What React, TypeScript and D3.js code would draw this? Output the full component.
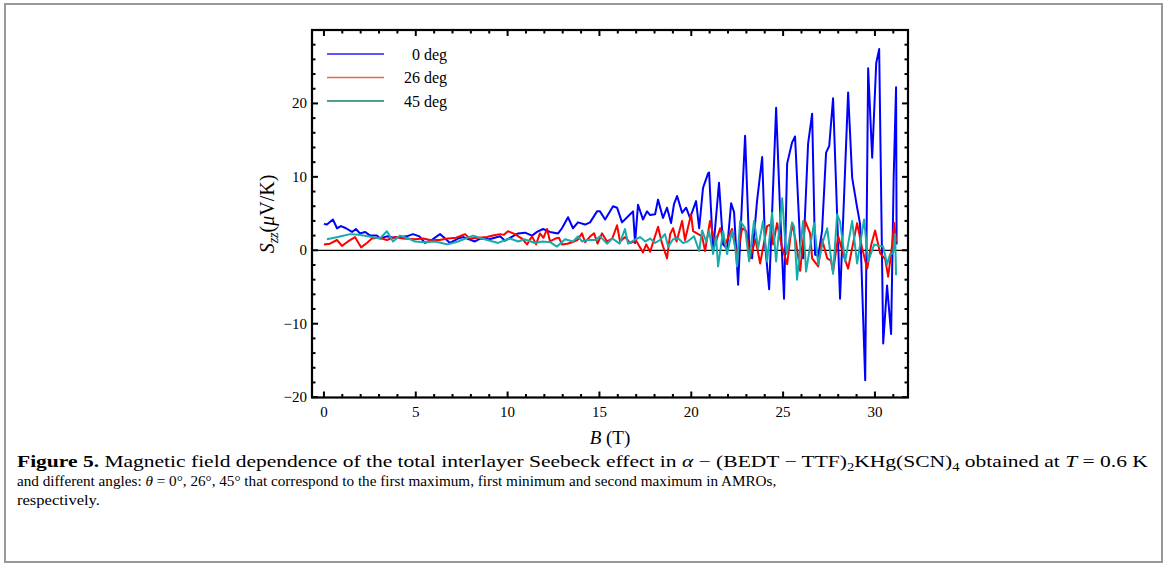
import React, { useLayoutEffect, useRef } from "react";
import * as d3 from "d3";

// 0 deg series (field in T, Szz in µV/K)
const blueB = [0,0.16,0.49,0.71,0.93,1.2,1.53,1.74,1.96,2.25,2.51,2.89,3.05,3.43,3.8,4.14,4.5,4.85,5.2,5.5,5.8,6.32,6.6,6.86,7.3,7.6,7.9,8.22,8.5,9.0,9.3,9.59,9.86,10.2,10.57,10.95,11.33,11.6,11.93,12.31,12.75,12.96,13.29,13.56,13.83,14.22,14.49,14.87,15.03,15.31,15.74,15.96,16.23,16.67,16.83,16.94,17.1,17.37,17.59,17.76,18.03,18.19,18.46,18.68,18.9,19.06,19.23,19.5,19.72,19.93,20.26,20.43,20.64,20.92,20.97,21.19,21.51,21.73,21.95,22.17,22.33,22.55,22.93,23.15,23.31,23.58,23.86,24.02,24.24,24.62,24.84,25.05,25.22,25.49,25.65,25.93,26.09,26.36,26.58,26.74,26.91,27.12,27.34,27.51,27.72,28.1,28.54,28.76,29.03,29.19,29.47,29.63,29.85,30.07,30.23,30.45,30.66,30.88,31.02,31.15,31.18];
const blueS = [3.6,3.5,4.2,3.0,3.3,3.0,2.5,2.9,2.3,2.5,2.0,2.0,1.6,1.9,1.7,1.8,1.9,2.2,1.9,1.0,1.3,2.2,1.6,1.0,1.6,1.8,1.5,1.2,1.6,1.5,1.7,1.9,1.3,1.8,2.3,2.4,2.0,2.5,2.9,2.5,2.3,3.0,4.5,3.0,3.8,3.5,3.8,5.3,5.3,4.2,6.0,5.8,3.8,4.9,5.3,1.0,6.2,4.2,5.3,4.8,4.9,6.9,4.4,5.8,3.7,6.3,7.4,5.1,5.8,4.4,6.7,3.0,8.5,10.5,10.6,-0.1,9.2,0.8,0.2,6.4,5.2,-4.7,15.6,0.8,-1.1,6.7,12.7,0.8,-5.3,19.4,5.1,-6.6,11.8,14.7,15.5,0.8,-1.1,14.5,18.6,-0.6,-0.8,2.6,13.3,14.2,20.7,-6.6,21.5,9.9,5.8,3.6,-17.7,24.8,12.6,25.5,27.4,-12.7,-4.8,-11.4,9.9,22.2,0.8];

// 26 deg series
const redB = [0,0.33,0.71,0.98,1.31,1.69,2.02,2.34,2.61,3.0,3.43,3.87,4.3,4.96,5.4,5.77,6.3,6.75,7.2,7.68,7.95,8.4,8.88,9.2,9.59,9.8,10.02,10.4,10.78,11.06,11.33,11.55,11.76,11.95,12.15,12.31,12.6,12.8,12.96,13.25,13.51,13.8,14.05,14.22,14.5,14.71,14.9,15.14,15.41,15.7,15.96,16.12,16.4,16.67,17.0,17.37,17.55,17.76,18.19,18.4,18.68,18.85,19.01,19.2,19.5,19.66,19.99,20.1,20.59,20.75,21.02,21.3,21.57,21.84,22.22,22.49,22.77,23.0,23.2,23.5,23.75,24.13,24.29,24.46,24.67,24.9,25.22,25.49,25.71,25.93,26.2,26.47,26.58,26.91,27.12,27.4,27.6,27.72,28.0,28.27,28.54,28.8,29.03,29.3,29.58,29.8,30.01,30.28,30.56,30.72,30.94,31.05,31.15];
const redS = [0.8,0.9,1.4,0.6,1.2,1.8,0.4,1.0,1.6,1.7,1.4,1.8,1.6,1.5,1.6,1.4,1.4,1.6,1.7,2.2,1.6,1.7,1.8,2.0,2.2,2.1,2.6,2.2,1.6,0.8,1.9,0.8,2.3,1.7,2.9,1.2,1.6,1.7,0.8,0.9,1.1,1.4,2.3,1.1,1.9,2.3,0.9,2.3,1.2,1.6,3.4,1.2,1.8,1.0,1.3,-0.3,0.8,-0.2,3.2,1.0,-1.1,2.2,3.0,1.2,4.0,1.4,4.9,2.6,1.9,-0.1,4.0,0.8,3.0,0.8,2.9,-0.8,3.0,2.6,-1.1,1.5,-1.8,3.3,3.5,0.8,3.7,0.8,-1.9,3.7,1.0,-2.8,4.0,2.3,-1.1,-2.2,1.5,-1.1,-1.4,-2.9,1.9,-0.5,-2.5,0.8,3.7,0.3,-2.5,0.8,2.7,-0.4,-1.2,-3.6,0.8,3.7,1.2];

// 45 deg series
const tealB = [0.16,0.76,1.42,1.9,2.61,3.05,3.43,3.76,4.14,4.6,4.96,5.5,6.05,6.75,7.3,8.12,8.6,9.48,9.9,10.13,10.57,10.9,11.49,11.9,12.31,12.69,13.13,13.56,13.83,14.05,14.3,14.8,15.03,15.41,15.7,16.1,16.39,16.56,16.9,17.21,17.5,17.76,18.03,18.3,18.57,18.74,19.01,19.3,19.55,19.8,20.15,20.43,20.59,20.81,20.97,21.19,21.35,21.46,21.73,21.95,22.22,22.39,22.49,22.66,22.93,23.15,23.42,23.64,23.91,24.13,24.4,24.62,24.95,25.1,25.2,25.49,25.6,25.76,25.95,26.09,26.25,26.5,26.69,26.91,27.18,27.4,27.72,27.94,28.1,28.38,28.76,29.03,29.41,29.63,29.96,30.2,30.45,30.66,30.83,30.99,31.1,31.15];
const tealS = [1.5,1.8,2.2,2.1,1.8,1.6,2.6,1.2,2.0,1.6,1.2,1.1,1.2,0.8,1.2,2.0,1.6,1.0,1.4,1.6,1.2,1.5,1.0,1.2,1.1,0.5,1.5,1.2,1.9,1.2,1.4,1.4,1.9,0.9,1.6,0.9,2.9,0.9,1.4,1.8,1.2,1.6,1.0,1.4,2.2,0.5,1.5,1.6,1.0,1.2,1.9,-0.1,2.7,1.2,2.6,-0.5,1.9,-2.2,2.6,-0.5,2.6,0.4,-2.2,4.0,3.0,-1.5,4.0,0.3,4.0,-1.5,5.1,-1.5,7.1,1.8,-0.5,3.8,3.2,-4.0,0.8,4.0,-2.9,1.0,3.7,-1.9,1.3,3.0,-3.2,4.9,3.9,-1.5,4.0,-1.8,4.2,-1.5,0.8,0.6,0.5,-1.9,-0.5,-0.4,2.2,-3.4];

const seriesNames = ["0 deg", "26 deg", "45 deg"];
const lineColors = ["#0000ff", "#ff0000", "#17abab"];
const legendColors = ["#2a1cff", "#e8664e", "#1b7d6d"];

const xMajor = [0, 5, 10, 15, 20, 25, 30];
const xMinor = [1,2,3,4,6,7,8,9,11,12,13,14,16,17,18,19,21,22,23,24,26,27,28,29,31];
const yMajor = [-20, -10, 0, 10, 20];
const yMinor = [-18,-16,-14,-12,-8,-6,-4,-2,2,4,6,8,12,14,16,18,22,24,26,28];
const yLabels = ["\u221220", "\u221210", "0", "10", "20"];

const captionTargets = [1133, 760, 83];

export default function App() {
  const L = 312, R = 908, T = 30, Bt = 397.5;
  const x = d3.scaleLinear().domain([-0.65, 31.8]).range([L, R]);
  const y = d3.scaleLinear().domain([-20.05, 30.0]).range([Bt, T]);
  const line = d3.line<[number, number]>().x(d => x(d[0])).y(d => y(d[1]));
  const data: [number, number][][] = [
    blueB.map((b, i) => [b, blueS[i]]),
    redB.map((b, i) => [b, redS[i]]),
    tealB.map((b, i) => [b, tealS[i]]),
  ];
  const font = "'Liberation Serif', 'DejaVu Serif', serif";
  const r0 = useRef<SVGTextElement>(null);
  const r1 = useRef<SVGTextElement>(null);
  const r2 = useRef<SVGTextElement>(null);
  const capY = [467, 486, 505];

  useLayoutEffect(() => {
    [r0, r1, r2].forEach((r, k) => {
      const el = r.current;
      if (!el) return;
      const w = el.getBBox().width;
      if (w > 0) el.setAttribute("transform", `translate(17,${capY[k]}) scale(${captionTargets[k] / w},1)`);
    });
  }, []);

  return (
    <svg width={1168} height={567} style={{ position: "absolute", left: 0, top: 0 }} fontFamily={font}>
      <rect x={0} y={0} width={1168} height={567} fill="#fff" />
      <rect x={5} y={4} width={1157} height={558} fill="none" stroke="#999" strokeWidth={2} />
      <defs>
        <clipPath id="pa"><rect x={L} y={T} width={R - L} height={Bt - T} /></clipPath>
      </defs>
      <line x1={L} x2={R} y1={y(0)} y2={y(0)} stroke="#000" strokeWidth={1.2} />
      <g clipPath="url(#pa)">
        {[0, 1, 2].map(i => (
          <path key={i} d={line(data[i]) || ""} fill="none" stroke={lineColors[i]} strokeWidth={2} strokeLinejoin="round" />
        ))}
      </g>
      <rect x={L} y={T} width={R - L} height={Bt - T} fill="none" stroke="#000" strokeWidth={2.2} />
      {xMajor.map(v => (
        <g key={"xm" + v}>
          <line x1={x(v)} x2={x(v)} y1={Bt} y2={Bt - 6} stroke="#000" strokeWidth={2} />
          <line x1={x(v)} x2={x(v)} y1={T} y2={T + 6} stroke="#000" strokeWidth={2} />
          <text x={x(v)} y={417} fontSize={15} textAnchor="middle">{String(v)}</text>
        </g>
      ))}
      {xMinor.map(v => (
        <g key={"xn" + v}>
          <line x1={x(v)} x2={x(v)} y1={Bt} y2={Bt - 3.5} stroke="#000" strokeWidth={2} />
          <line x1={x(v)} x2={x(v)} y1={T} y2={T + 3.5} stroke="#000" strokeWidth={2} />
        </g>
      ))}
      {yMajor.map((v, i) => (
        <g key={"ym" + v}>
          <line x1={L} x2={L + 6} y1={y(v)} y2={y(v)} stroke="#000" strokeWidth={2} />
          <line x1={R} x2={R - 6} y1={y(v)} y2={y(v)} stroke="#000" strokeWidth={2} />
          <text x={307} y={y(v) + 5} fontSize={15} textAnchor="end">{yLabels[i]}</text>
        </g>
      ))}
      {yMinor.map(v => (
        <g key={"yn" + v}>
          <line x1={L} x2={L + 3.5} y1={y(v)} y2={y(v)} stroke="#000" strokeWidth={2} />
          <line x1={R} x2={R - 3.5} y1={y(v)} y2={y(v)} stroke="#000" strokeWidth={2} />
        </g>
      ))}
      <text x={610} y={444} fontSize={19} textAnchor="middle">
        <tspan fontStyle="italic">B</tspan>{" (T)"}
      </text>
      <text transform="translate(274,214) rotate(-90)" fontSize={20} textAnchor="middle">
        <tspan fontStyle="italic">S</tspan>
        <tspan fontStyle="italic" fontSize={14} dy={4}>zz</tspan>
        <tspan dy={-4}>(</tspan>
        <tspan fontStyle="italic">{"\u03bc"}</tspan>
        <tspan>V/K)</tspan>
      </text>
      {seriesNames.map((n, i) => (
        <g key={n}>
          <line x1={327} x2={384} y1={54 + i * 23.5} y2={54 + i * 23.5} stroke={legendColors[i]} strokeWidth={1.3} />
          <text x={447} y={59.5 + i * 23.5} fontSize={16} textAnchor="end">{n}</text>
        </g>
      ))}
      <text ref={r0} transform={`translate(17,${capY[0]})`} fontSize={17}>
        <tspan fontWeight="bold">{"Figure 5."}</tspan>
        <tspan>{" Magnetic field dependence of the total interlayer Seebeck effect in "}</tspan>
        <tspan fontStyle="italic">{"\u03b1"}</tspan>
        <tspan>{" \u2212 (BEDT \u2212 TTF)"}</tspan>
        <tspan fontSize={11.5} dy={4}>2</tspan>
        <tspan dy={-4}>{"KHg(SCN)"}</tspan>
        <tspan fontSize={11.5} dy={4}>4</tspan>
        <tspan dy={-4}>{" obtained at "}</tspan>
        <tspan fontStyle="italic">T</tspan>
        <tspan>{" = 0.6 K"}</tspan>
      </text>
      <text ref={r1} transform={`translate(17,${capY[1]})`} fontSize={15.5}>
        <tspan>{"and different angles: "}</tspan>
        <tspan fontStyle="italic">{"\u03b8"}</tspan>
        <tspan>{" = 0\u00b0, 26\u00b0, 45\u00b0 that correspond to the first maximum, first minimum and second maximum in AMROs,"}</tspan>
      </text>
      <text ref={r2} transform={`translate(17,${capY[2]})`} fontSize={15.5}>respectively.</text>
    </svg>
  );
}
